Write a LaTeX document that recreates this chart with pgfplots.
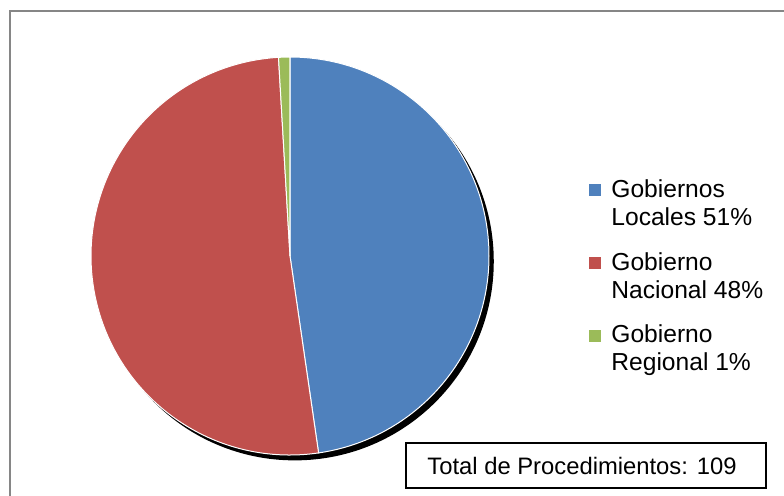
\documentclass[border=0pt]{standalone}
\usepackage{pgfplots}
\pgfplotsset{compat=1.18}
\usepackage{pgfplotstable}
\usepackage{fontspec}
\setmainfont{Liberation Sans}

\definecolor{pieblue}{RGB}{79,129,189}
\definecolor{piered}{RGB}{192,80,77}
\definecolor{piegreen}{RGB}{155,187,89}
\definecolor{framegray}{RGB}{134,134,134}

% number of procedures per level of government (total 109)
\pgfplotstableread{
sector count
Locales 52
Nacional 56
Regional 1
}\piedata

\begin{document}
\begin{tikzpicture}[x=1pt,y=1pt]
\useasboundingbox (0,0) rectangle (392,247.5);
\draw[framegray, line width=1pt] (4.75,-5) -- (4.75,242.25) -- (400,242.25);

\pgfplotstablegetelem{0}{count}\of\piedata \let\nA\pgfplotsretval
\pgfplotstablegetelem{1}{count}\of\piedata \let\nB\pgfplotsretval
\pgfplotstablegetelem{2}{count}\of\piedata \let\nC\pgfplotsretval
\pgfmathsetmacro\total{\nA+\nB+\nC}
\pgfmathsetmacro\aA{90}
\pgfmathsetmacro\aB{\aA-\nA/\total*360}
\pgfmathsetmacro\aC{\aB-\nB/\total*360}
\pgfmathsetmacro\aD{\aC-\nC/\total*360}

\begin{axis}[
   at={(145pt,119.5pt)}, anchor=center,
   scale only axis, width=199pt, height=199pt,
   xmin=-1, xmax=1, ymin=-1, ymax=1,
   hide axis, clip=false,
]
  % shadow
  \fill[black] (axis cs:0.024,-0.027) circle[radius=99.5pt];

  \addplot[fill=pieblue, draw=white, line width=0.5pt, data cs=polar]
     coordinates {(0,0) (\aA,1)} arc[start angle=\aA, end angle=\aB, radius=99.5pt] -- cycle;
  \addplot[fill=piered, draw=white, line width=0.5pt, data cs=polar]
     coordinates {(0,0) (\aB,1)} arc[start angle=\aB, end angle=\aC, radius=99.5pt] -- cycle;
  \addplot[fill=piegreen, draw=white, line width=0.5pt, data cs=polar]
     coordinates {(0,0) (\aC,1)} arc[start angle=\aC, end angle=\aD, radius=99.5pt] -- cycle;
\end{axis}

% legend
\tikzset{leg/.style={anchor=base west, inner sep=0pt, font=\fontsize{12.3}{14}\selectfont}}
\fill[pieblue]  (294.25,149.75) rectangle ++(6,6);
\fill[piered]   (294.25,113)    rectangle ++(6,6);
\fill[piegreen] (294.25,76.5)   rectangle ++(6,6);
\node[leg] at (305.5,149)   {Gobiernos};
\node[leg] at (305.5,134.75) {Locales 51\%};
\node[leg] at (305.5,112.5) {Gobierno};
\node[leg] at (305.5,98.25) {Nacional 48\%};
\node[leg] at (305.5,76.5)  {Gobierno};
\node[leg] at (305.5,62.25) {Regional 1\%};

% total box
\draw[black, line width=0.6pt] (203,3.5) rectangle (383,26);
\node[anchor=base, inner sep=0pt, font=\fontsize{11.9}{14}\selectfont] at (291,10.3) {Total de Procedimientos: 109};
\end{tikzpicture}
\end{document}
